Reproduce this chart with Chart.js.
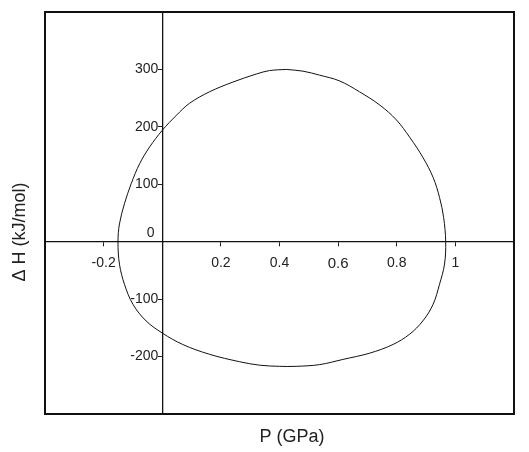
<!DOCTYPE html>
<html>
<head>
<meta charset="utf-8">
<title>ΔH vs P</title>
<script src="https://cdn.jsdelivr.net/npm/chart.js@4/dist/chart.umd.min.js"></script>
<style>
  html, body { margin: 0; padding: 0; background: #fff; }
  canvas { display: block; }
</style>
</head>
<body>
<canvas id="loopChart" width="529" height="452"></canvas>
<script>
// closed loop, traced clockwise from the top
const pressure = [
    0.423, 0.480, 0.537, 0.605, 0.673, 0.742, 0.799, 0.844, 0.889, 0.924,
    0.946, 0.960, 0.967, 0.963, 0.946, 0.924, 0.889, 0.844, 0.787, 0.708,
    0.616, 0.537, 0.457, 0.400, 0.332, 0.264, 0.161, 0.070, 0.000, -0.055,
    -0.100, -0.129, -0.146, -0.151, -0.146, -0.129, -0.106, -0.077, -0.043, 0.000,
    0.048, 0.093, 0.161, 0.241, 0.321, 0.366, 0.423
];
const deltaH = [
    300, 297, 290, 280, 261, 238, 212, 182, 147, 112,
    77, 42, 0, -39, -74, -109, -138, -161, -179, -194,
    -205, -214, -217, -217, -215, -209, -196, -179, -159, -138,
    -109, -74, -39, 0, 31, 66, 101, 136, 165, 194,
    220, 241, 261, 278, 292, 298, 300
];

const xTicks = [-0.2, 0.2, 0.4, 0.6, 0.8, 1];
const yTicks = [-200, -100, 0, 100, 200, 300];

const FONT = "'Liberation Sans', Arial, sans-serif";
const INK = '#222';

// frame around the plot area + the two axis titles
const framePlugin = {
    id: 'frame',
    afterDraw(chart) {
        const { ctx, chartArea: a } = chart;
        ctx.save();
        ctx.strokeStyle = '#111';
        ctx.lineWidth = 2;
        ctx.strokeRect(a.left, a.top, a.right - a.left, a.bottom - a.top);

        ctx.fillStyle = INK;
        ctx.font = '18px ' + FONT;
        ctx.textAlign = 'center';
        ctx.textBaseline = 'middle';
        ctx.fillText('P (GPa)', 292, 437);

        ctx.translate(20, 232);
        ctx.rotate(-Math.PI / 2);
        ctx.fillText('Δ H (kJ/mol)', 0, 0);
        ctx.restore();
    }
};

new Chart(document.getElementById('loopChart'), {
    type: 'scatter',
    data: {
        datasets: [{
            data: pressure.map((p, i) => ({ x: p, y: deltaH[i] })),
            showLine: true,
            borderColor: '#111',
            borderWidth: 1,
            pointRadius: 0,
            tension: 0.35,
            fill: false
        }]
    },
    options: {
        responsive: false,
        animation: false,
        layout: { padding: { left: 45, top: 12, right: 15, bottom: 38 } },
        plugins: {
            legend: { display: false },
            tooltip: { enabled: false }
        },
        scales: {
            x: {
                type: 'linear',
                position: { y: 0 },
                min: -0.4,
                max: 1.2,
                afterBuildTicks: s => { s.ticks = xTicks.map(v => ({ value: v })); },
                ticks: {
                    color: INK,
                    padding: 9,
                    font: c => ({ family: FONT, size: c.tick && c.tick.value === 0.6 ? 15 : 14 }),
                    callback: v => String(v)
                },
                grid: { drawOnChartArea: false, tickLength: 4, color: '#222' },
                border: { color: '#111', width: 1.3 }
            },
            y: {
                type: 'linear',
                position: { x: 0 },
                min: -300,
                max: 400,
                afterBuildTicks: s => { s.ticks = yTicks.map(v => ({ value: v })); },
                ticks: {
                    color: INK,
                    font: { family: FONT, size: 14 },
                    // labels end at the tick mark; zero sits just above the x axis
                    callback: v => (v === 0 ? ['0  ', ''] : v + ' ')
                },
                grid: { drawOnChartArea: false, tickLength: 4, color: '#222' },
                border: { color: '#111', width: 1.3 }
            }
        }
    },
    plugins: [framePlugin]
});
</script>
</body>
</html>
